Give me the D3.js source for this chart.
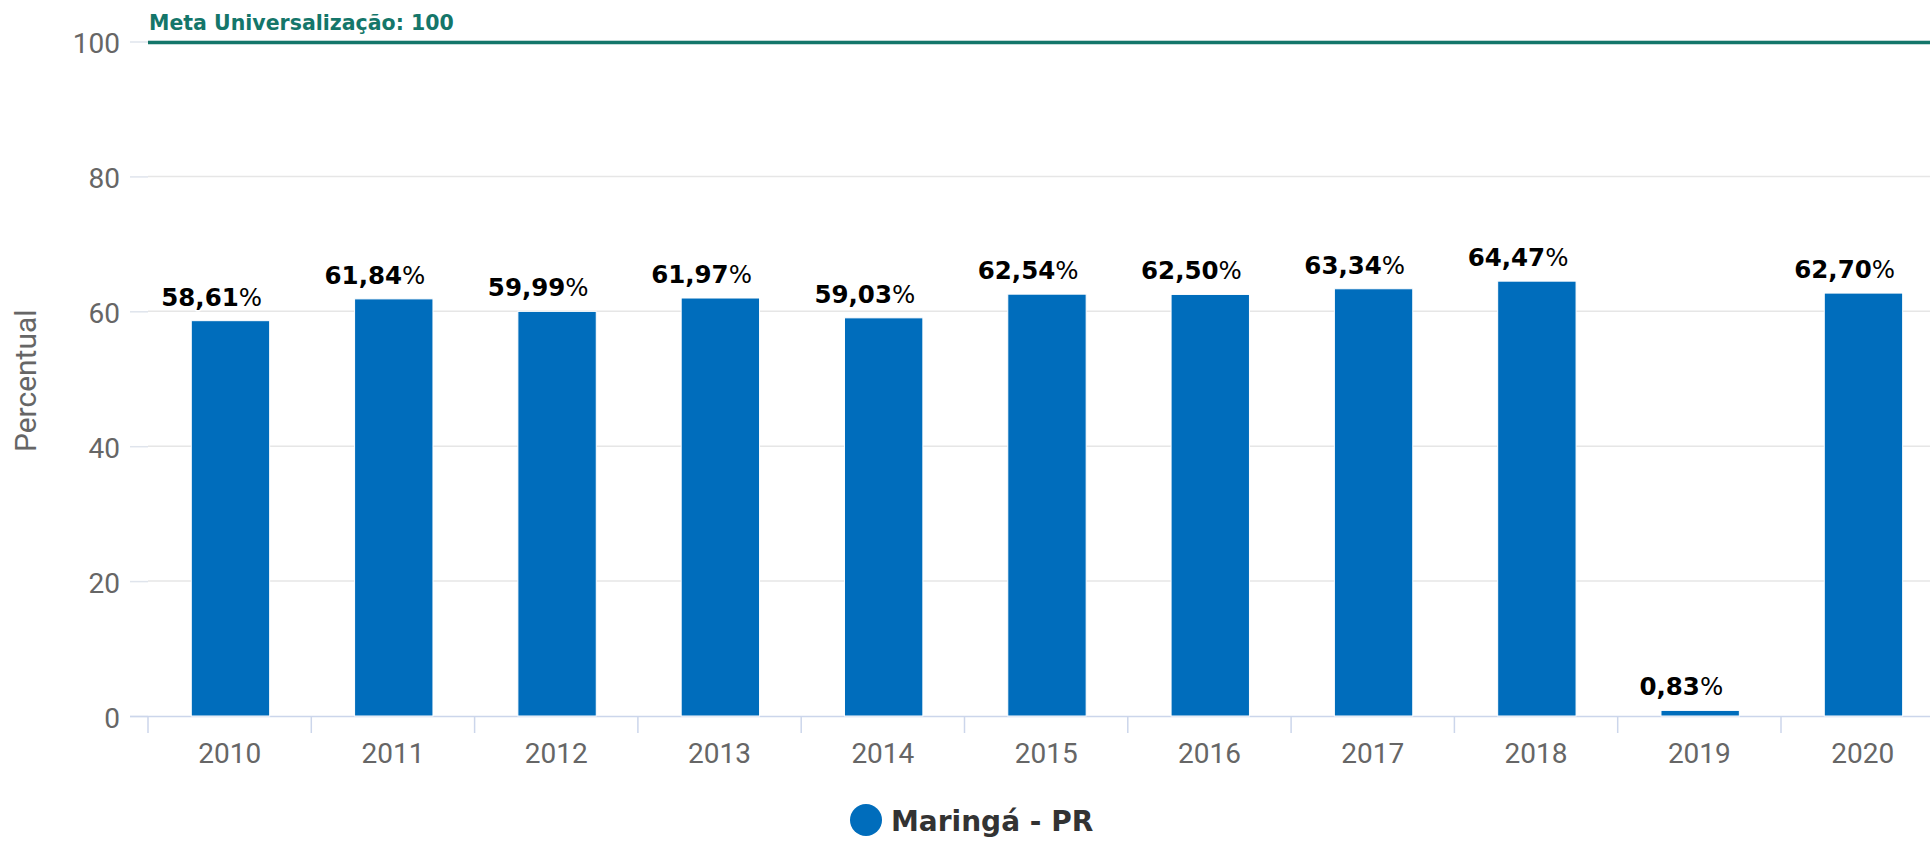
<!DOCTYPE html>
<html>
<head>
<meta charset="utf-8">
<script src="https://cdn.jsdelivr.net/npm/d3@7"></script>
<style>
  html, body { margin: 0; padding: 0; background: #fff; overflow: hidden; }
  svg { display: block; }
</style>
</head>
<body>
<svg id="chart" width="1930" height="843"></svg>
<script>
// ---- data ----
const categories = ["2010","2011","2012","2013","2014","2015","2016","2017","2018","2019","2020"];
const values = [58.61, 61.84, 59.99, 61.97, 59.03, 62.54, 62.50, 63.34, 64.47, 0.83, 62.70];
const yTicks = [0, 20, 40, 60, 80, 100];
const metaValue = 100;
const metaLabel = "Meta Universalização: 100";
const seriesName = "Maringá - PR";
const yTitle = "Percentual";

// ---- layout ----
const plotLeft = 148, step = 163.3;
const plotRight = plotLeft + step * categories.length; // extends beyond the visible width
const plotTop = 41.5, plotBottom = 716;
const barColor = "#006dbc";
const metaColor = "#14766a";
const tickFont = "Roboto, 'Noto Sans', sans-serif";
const labelFont = "'DejaVu Sans', sans-serif";

const svg = d3.select("#chart");

const x = d3.scaleBand().domain(categories).range([plotLeft, plotRight]).padding(0);
const y = d3.scaleLinear().domain([0, 100]).range([plotBottom, plotTop]);

// gridlines
svg.append("g").selectAll("line").data(yTicks.filter(t => t !== 0)).join("line")
  .attr("x1", plotLeft).attr("x2", plotRight)
  .attr("y1", d => y(d)).attr("y2", d => y(d))
  .attr("stroke", "#e6e6e6").attr("stroke-width", 1.5);

// y axis (tick marks to the left + labels)
const yAxis = d3.axisLeft(y).tickValues(yTicks).tickSize(18).tickPadding(10).tickFormat(d3.format("d"));
const gy = svg.append("g").attr("transform", `translate(${plotLeft},0)`).call(yAxis);
gy.select(".domain").remove();
gy.selectAll(".tick line").attr("stroke", "#dfe4ec").attr("stroke-width", 1.5);
gy.selectAll(".tick text")
  .attr("fill", "#666666")
  .attr("font-family", tickFont)
  .attr("font-size", "28px")
  .attr("dy", "0.4em");

// y title
svg.append("text")
  .attr("transform", `translate(36, ${(plotTop + plotBottom) / 2 + 2}) rotate(-90)`)
  .attr("text-anchor", "middle")
  .attr("fill", "#666666")
  .attr("font-family", tickFont)
  .attr("font-size", "30px")
  .text(yTitle);

// x axis
const xAxis = d3.axisBottom(x).tickSize(0).tickPadding(0);
const gx = svg.append("g").attr("transform", `translate(0,${plotBottom})`).call(xAxis);
gx.select(".domain").attr("stroke", "#ccd6eb").attr("stroke-width", 1.5)
  .attr("d", `M${plotLeft - 18},0.5H${plotRight}`);
gx.selectAll(".tick text")
  .attr("fill", "#666666")
  .attr("font-family", tickFont)
  .attr("font-size", "28px")
  .attr("y", 47)
  .attr("dy", 0);
// tick marks on band boundaries
svg.append("g").selectAll("line").data(categories).join("line")
  .attr("x1", d => x(d)).attr("x2", d => x(d))
  .attr("y1", plotBottom).attr("y2", plotBottom + 17)
  .attr("stroke", "#ccd6eb").attr("stroke-width", 1.5);

// bars
const bw = x.bandwidth();
svg.append("g").selectAll("rect").data(values).join("rect")
  .attr("x", (d, i) => x(categories[i]) + bw * 0.265)
  .attr("width", bw * 0.48)
  .attr("y", d => y(d))
  .attr("height", d => y(0) - y(d))
  .attr("fill", barColor)
  .attr("stroke", "#ffffff").attr("stroke-width", 1);

// data labels (sit slightly left of bar centre, as in the source)
const fmt = v => v.toFixed(2).replace(".", ",");
const labels = svg.append("g").selectAll("text").data(values).join("text")
  .attr("x", (d, i) => x(categories[i]) + bw / 2 - 18)
  .attr("y", d => y(d) - 15)
  .attr("text-anchor", "middle")
  .attr("font-family", labelFont)
  .attr("font-size", "24.5px")
  .attr("font-weight", "bold")
  .attr("fill", "#000")
  .attr("stroke", "#fff").attr("stroke-width", 3).attr("paint-order", "stroke")
  .attr("stroke-linejoin", "round");
labels.append("tspan").text(d => fmt(d));
labels.append("tspan").attr("font-weight", "normal").text("%");

// meta line
svg.append("line")
  .attr("x1", plotLeft).attr("x2", plotRight)
  .attr("y1", y(metaValue) + 1).attr("y2", y(metaValue) + 1)
  .attr("stroke", metaColor).attr("stroke-width", 3.5);
svg.append("text")
  .attr("x", plotLeft + 1).attr("y", 30)
  .attr("fill", metaColor)
  .attr("font-family", labelFont)
  .attr("font-weight", "bold")
  .attr("font-size", "20.5px")
  .text(metaLabel);

// legend
svg.append("circle").attr("cx", 866).attr("cy", 820).attr("r", 16).attr("fill", barColor);
svg.append("text")
  .attr("x", 891).attr("y", 831)
  .attr("fill", "#333333")
  .attr("font-family", labelFont)
  .attr("font-weight", "bold")
  .attr("font-size", "28px")
  .text(seriesName);
</script>
</body>
</html>
